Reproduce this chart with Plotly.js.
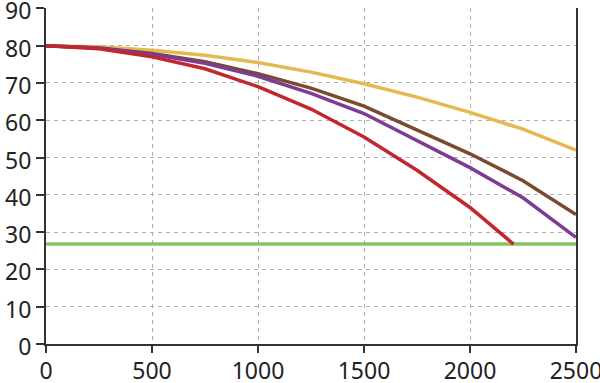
<!DOCTYPE html>
<html>
<head>
<meta charset="utf-8">
<script src="https://cdn.plot.ly/plotly-3.0.1.min.js"></script>
<style>html,body{margin:0;padding:0;background:#fff;}#chart{width:600px;height:383px;}</style>
</head>
<body>
<div id="chart"></div>
<script>
const xSteps = [0, 250, 500, 750, 1000, 1250, 1500, 1750, 2000, 2250, 2500];
const yellowVals = [80, 79.7, 78.8, 77.4, 75.5, 72.9, 69.8, 66.2, 62.1, 57.6, 52.0];
const brownVals  = [80, 79.4, 77.9, 75.7, 72.5, 68.6, 63.8, 57.4, 51.0, 43.8, 34.7];
const purpleVals = [80, 79.4, 77.7, 75.3, 71.8, 67.2, 61.8, 54.6, 47.3, 39.2, 28.6];
const redX       = [0, 250, 500, 750, 1000, 1250, 1500, 1750, 2000, 2205];
const redVals    = [80, 79.2, 77.0, 73.8, 69.0, 63.0, 55.5, 46.6, 36.6, 26.8];
const greenX     = [0, 2500];
const greenVals  = [26.8, 26.8];
const xTicks = [0, 500, 1000, 1500, 2000, 2500];
const yTicks = [0, 10, 20, 30, 40, 50, 60, 70, 80, 90];

const w = 3.5;
const traces = [
  {x: greenX, y: greenVals, mode: 'lines', line: {color: '#8dc165', width: w}},
  {x: xSteps, y: yellowVals, mode: 'lines', line: {color: '#e5b94f', width: w}},
  {x: xSteps, y: brownVals, mode: 'lines', line: {color: '#7a4a2e', width: w}},
  {x: xSteps, y: purpleVals, mode: 'lines', line: {color: '#7d3c94', width: w}},
  {x: redX, y: redVals, mode: 'lines', line: {color: '#c1272d', width: w}}
];

const layout = {
  width: 600, height: 383,
  margin: {l: 46, r: 24, t: 8, b: 39},
  showlegend: false,
  paper_bgcolor: '#fff', plot_bgcolor: '#fff',
  font: {family: '"Noto Sans", "Open Sans", sans-serif', size: 23, color: '#222'},
  xaxis: {
    range: [0, 2500], tickvals: xTicks, ticktext: xTicks.map(String),
    showline: true, linecolor: '#333', linewidth: 2,
    ticks: 'outside', ticklen: 7, tickwidth: 2, tickcolor: '#333',
    ticklabeloverflow: 'allow', ticklabelstandoff: -2,
    showgrid: true, gridcolor: '#b0b0b0', gridwidth: 1, griddash: '4px,4px',
    zeroline: false, fixedrange: true
  },
  yaxis: {
    range: [0, 90.1], tickvals: yTicks, ticktext: yTicks.map(String),
    showline: true, mirror: true, linecolor: '#333', linewidth: 2,
    ticks: 'outside', ticklen: 8, tickwidth: 2, tickcolor: '#333',
    ticklabeloverflow: 'allow', ticklabelshift: 3,
    showgrid: true, gridcolor: '#b0b0b0', gridwidth: 1, griddash: '4px,4px',
    zeroline: false, fixedrange: true
  }
};

Plotly.newPlot('chart', traces, layout, {displayModeBar: false, staticPlot: true});
</script>
</body>
</html>
